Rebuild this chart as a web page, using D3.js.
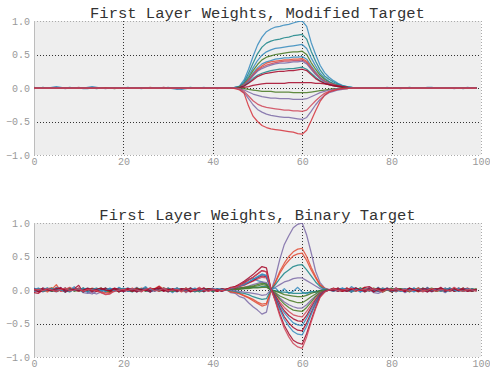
<!DOCTYPE html>
<html>
<head>
<meta charset="utf-8">
<script src="https://cdn.jsdelivr.net/npm/d3@7/dist/d3.min.js"></script>
<style>
  body { margin: 0; background: #fff; }
  svg { display: block; }
</style>
</head>
<body>
<div id="chart"></div>
<script>
// ---- data (all weights in hundredths) ----
const titles = ["First Layer Weights, Modified Target", "First Layer Weights, Binary Target"];
const xTicks = [0, 20, 40, 60, 80, 100];
const yTicks = [-1, -0.5, 0, 0.5, 1];

// each series is three pieces: x 0..43, x 44..72, x 73..99
const topStarts = [0, 44, 73];
const topColors = ["#348ABD", "#188487", "#348ABD", "#467821", "#348ABD", "#E24A33", "#CF4457", "#7A68A6",
                   "#188487", "#A60628", "#A60628", "#467821", "#7A68A6", "#CF4457", "#7A68A6", "#D6313B"];
const topSeries = [
  [[0,0,0,0,1,2,1,0,0,0, 0,-1,-1,0,0,0,0,0,0,0, 0,0,0,0,0,0,0,0,0,0, 0,-1,-2,-1,0,0,0,0,0,0, 0,0,0,0],
   [0,1,3,12,28,47,64,76,84,88,91,92,94,95,97,99,100,92,68,50,34,23,16,11,7,4,2,1,0],
   [0,0,0,0,0,0,1,0,0,0, 0,0,0,0,0,0,0,0,0,0, 0,0,0,0,0,0,0]],
  [[0,0,1,0,0,0,0,0,1,0, 0,0,0,0,-1,0,0,0,0,0, 0,1,0,0,0,0,0,0,0,0, 0,0,0,0,0,1,0,0,0,0, 0,0,0,0],
   [0,1,2,9,22,37,51,61,67,70,72,73,75,76,78,79,80,73,55,40,27,18,13,9,6,3,2,1,0],
   [0,0,0,0,0,0,0,0,0,0, 0,1,0,0,0,0,0,0,0,0, 0,0,0,-1,0,0,0]],
  [[0,0,0,0,0,0,0,0,0,0, 0,0,1,2,1,0,0,0,0,0, 0,0,0,0,-1,0,0,0,0,0, 0,0,0,0,0,0,0,0,1,0, 0,0,0,0],
   [0,1,2,8,18,30,41,49,54,57,59,60,61,62,63,64,65,59,45,33,22,15,10,7,5,3,1,1,0],
   [0,0,0,0,0,0,0,0,0,0, 0,0,0,0,0,1,1,0,0,0, 0,0,0,0,0,0,0]],
  [[0,0,0,0,0,0,0,0,0,0, 0,0,0,0,0,0,0,0,-1,0, 0,0,0,0,0,0,0,0,0,0, 0,0,0,0,0,0,0,0,0,0, 0,0,0,0],
   [0,0,2,6,15,26,35,42,46,48,50,51,52,53,54,54,55,50,38,28,19,13,9,6,4,2,1,0,0],
   [0,0,0,0,0,0,0,0,0,0, 0,0,0,0,0,0,0,0,0,0, 0,0,0,0,0,0,0]],
  [[1,0,0,0,0,0,0,0,0,0, 0,0,0,0,0,0,0,0,0,0, 0,0,0,0,0,0,0,0,0,0, 1,0,-1,-2,-1,0,0,0,0,0, 0,0,0,0],
   [0,0,1,5,13,22,30,36,39,41,43,44,45,45,46,46,47,43,33,24,16,11,8,5,3,2,1,0,0],
   [0,0,0,0,0,0,0,0,0,-1, 0,0,0,0,0,0,0,0,0,0, 0,0,0,0,1,0,0]],
  [[0,0,0,0,0,0,0,0,0,0, 0,0,0,0,0,0,0,0,0,0, 0,0,0,0,0,0,1,0,0,0, 0,0,0,0,0,0,0,0,0,0, 0,0,0,0],
   [0,0,1,5,12,20,28,33,37,39,40,41,42,42,43,43,44,40,31,22,15,10,7,5,3,2,1,0,0],
   [0,0,0,0,0,0,0,0,0,0, 0,0,0,0,0,0,0,0,0,0, 0,0,0,0,0,0,0]],
  [[0,0,0,0,0,0,0,0,0,0, 1,0,0,0,0,0,0,0,0,0, 0,0,0,0,0,0,0,0,0,0, 0,0,0,0,0,0,0,0,0,0, 0,0,0,0],
   [0,0,1,4,11,19,26,31,34,36,38,39,40,40,41,41,42,38,29,21,14,10,7,5,3,2,1,0,0],
   [0,0,0,0,0,0,0,0,0,0, 0,0,0,0,0,0,0,0,0,0, 0,0,0,0,0,0,0]],
  [[0,0,0,0,0,0,0,-1,0,0, 0,0,0,0,0,0,0,0,0,0, 0,0,0,0,0,0,0,0,0,0, 0,0,0,0,0,0,0,0,0,0, 0,-1,0,0],
   [0,0,1,4,10,18,25,29,32,34,36,37,37,38,39,39,40,36,28,20,14,9,6,4,3,2,1,0,0],
   [0,0,0,0,0,0,0,0,0,0, 0,0,0,0,0,0,0,0,0,0, 0,-1,0,0,0,0,0]],
  [[0,0,0,0,0,0,0,0,0,0, 0,0,0,0,0,0,0,0,0,0, 0,0,0,0,0,0,0,0,0,0, 0,0,0,0,0,0,0,0,0,0, 0,0,0,0],
   [0,0,1,3,8,14,19,22,24,26,27,28,28,29,29,30,31,28,22,16,11,7,5,3,2,1,1,0,0],
   [0,0,0,0,0,0,0,0,0,0, 0,0,0,0,0,0,0,0,0,0, 0,0,0,0,0,0,0]],
  [[0,0,0,0,0,0,0,0,0,0, 0,0,0,0,0,0,0,0,0,0, 0,0,0,0,0,0,0,0,0,1, 0,0,0,0,0,0,0,0,0,0, 0,0,0,0],
   [0,0,1,3,7,12,17,20,22,23,24,25,25,26,26,27,28,26,20,14,10,7,5,3,2,1,1,0,0],
   [0,0,0,0,0,0,0,0,0,0, 0,0,0,0,0,0,0,0,0,0, 0,0,0,0,0,0,0]],
  [[0,0,0,0,0,0,0,0,0,0, 0,0,0,0,0,0,0,0,0,0, 0,0,0,0,0,0,0,0,0,0, 0,0,0,0,0,0,0,0,0,0, 0,0,0,0],
   [0,0,0,1,2,4,5,6,7,7,7,7,7,8,8,8,8,8,8,7,7,6,5,4,3,2,1,0,0],
   [0,0,0,0,0,0,0,0,0,0, 0,0,0,0,0,0,0,0,0,0, 0,0,0,0,0,0,0]],
  [[0,0,0,0,0,0,0,0,0,0, 0,0,0,0,0,0,0,0,0,0, 0,0,0,0,0,0,0,0,0,0, 0,0,0,0,0,0,0,0,0,0, 0,0,0,0],
   [0,0,0,-1,-2,-3,-4,-5,-5,-5,-6,-6,-6,-6,-7,-7,-7,-7,-6,-5,-4,-3,-2,-1,-1,0,0,0,0],
   [0,0,0,0,0,0,0,0,0,0, 0,0,0,0,0,0,0,0,0,0, 0,0,0,0,0,0,0]],
  [[-1,0,0,0,0,0,0,0,0,0, 0,0,0,0,0,0,0,0,0,0, 0,0,0,0,0,0,0,0,0,0, 0,0,0,0,0,0,0,0,0,0, 0,0,0,0],
   [0,0,-1,-3,-6,-9,-11,-13,-14,-15,-15,-16,-16,-16,-17,-17,-17,-16,-13,-10,-7,-5,-3,-2,-1,-1,0,0,0],
   [0,0,0,0,0,0,0,0,0,0, 0,0,0,0,0,0,0,0,0,0, 0,0,0,0,0,0,0]],
  [[0,0,0,0,0,0,0,0,0,0, 0,0,0,0,0,0,0,0,0,0, 0,0,0,0,0,0,0,0,0,0, 0,0,0,0,0,0,0,0,0,0, 0,0,0,0],
   [0,0,-1,-5,-12,-19,-24,-27,-29,-30,-31,-32,-33,-33,-34,-34,-35,-33,-26,-19,-13,-8,-5,-3,-2,-1,-1,0,0],
   [0,0,0,0,0,0,0,0,0,0, 0,0,0,0,0,0,0,0,0,0, 0,0,0,0,0,0,0]],
  [[0,0,0,0,0,0,0,0,0,0, 0,0,0,0,0,0,-1,0,0,0, 0,0,0,0,0,0,0,0,0,0, 0,0,0,0,0,0,0,0,0,0, 0,0,0,0],
   [0,0,-2,-7,-16,-25,-32,-36,-39,-41,-42,-43,-44,-44,-45,-46,-47,-44,-35,-25,-17,-11,-7,-5,-3,-2,-1,0,0],
   [0,0,0,0,0,0,0,0,0,0, 0,0,0,0,0,0,0,0,0,0, 0,0,0,0,0,0,0]],
  [[0,0,0,0,0,0,0,0,0,0, 0,0,0,0,0,0,0,0,0,0, 0,0,0,0,0,0,0,0,0,0, 0,0,0,0,0,0,0,0,0,0, 0,0,0,0],
   [0,-1,-3,-8,-27,-42,-50,-56,-59,-61,-62,-63,-64,-65,-66,-68,-69,-63,-49,-34,-20,-11,-6,-4,-2,-1,-1,0,0],
   [0,0,0,0,0,0,0,0,0,0, 0,0,0,0,0,0,0,0,0,0, 0,0,0,0,0,0,0]]
];

// each series: x 0..42, x 43..53, x 54..66, x 67..99
const bottomStarts = [0, 43, 54, 67];
const bottomColors = ["#7A68A6", "#E24A33", "#E24A33", "#188487", "#7A68A6", "#348ABD", "#188487", "#467821", "#467821",
                      "#7A68A6", "#467821", "#CF4457", "#A60628", "#348ABD", "#A60628", "#348ABD", "#A60628", "#CF4457"];
const bottomSeries = [
  [[2,-1,3,0,-2,1,4,-3,0,2, -1,3,-4,-6,-2,1,0,2,-1,3, 1,-2,0,4,-1,2,-3,0,1,-2, 3,0,-1,2,-4,1,0,3,-2,1, 0,2,-1],
   [1,-4,-5,-10,-12,-19,-25,-30,-36,-33,-2],
   [19,46,68,81,93,98,100,82,56,28,11,3,1],
   [1,-2,3,0,-3,2,1,-1,4,0, -2,1,3,-1,0,2,-3,1,0,-2, 3,1,-1,2,0,-4,1,3,-1,0, 2,-1,1]],
  [[-1,2,0,-3,1,8,-2,0,1,-1, 2,0,-2,3,1,-1,0,-4,2,1, -2,0,3,-1,1,0,-2,2,6,1, -1,0,2,-3,1,0,-2,1,3,-1, 0,-2,1],
   [1,-2,-4,-6,-9,-12,-16,-20,-24,-22,-1],
   [12,28,40,50,57,61,62,50,34,20,8,3,0],
   [0,3,-1,2,-2,0,1,4,-1,0, 2,-3,1,0,-1,2,1,-2,0,3, -1,1,-2,0,2,1,-1,0,3,-2, 1,0,-1]],
  [[1,0,-2,2,3,-1,0,-3,1,2, 0,-1,3,1,-2,-3,-4,-3,0,1, 2,-1,0,-2,3,1,0,-1,2,0, -3,1,2,0,-1,3,-2,0,1,-1, 2,0,-1],
   [0,-3,-3,-5,-8,-11,-14,-18,-21,-20,-1],
   [11,25,36,44,51,54,55,44,30,18,7,2,0],
   [-2,1,0,3,-1,0,2,-2,1,-1, 0,3,1,-2,0,1,-1,2,0,-3, 1,2,-1,0,1,-2,3,0,-1,1, 0,2,-1]],
  [[0,-2,1,3,-1,0,2,-1,-3,1, 0,2,-2,1,3,0,-1,2,0,-2, 1,3,-1,0,-2,2,1,-1,0,3, 1,-2,0,2,-1,1,-3,0,2,1, -1,0,2],
   [0,-1,-2,-4,-5,-7,-10,-12,-14,-13,0],
   [8,17,25,30,35,37,38,30,21,12,5,1,0],
   [1,-1,2,0,-2,3,1,-3,0,2, -1,0,1,3,-2,0,1,-1,2,0, -2,1,0,-1,3,0,-2,1,2,-1, 0,1,-1]],
  [[-2,1,0,2,-1,-3,0,1,3,-1, 2,-4,-5,-2,0,1,-1,2,0,1, -3,0,2,1,-1,3,0,-2,1,0, 2,-1,-3,1,0,2,-1,0,3,-2, 1,0,-1],
   [1,0,-1,-2,-3,-4,-5,-6,-8,-7,0],
   [4,8,12,14,17,18,18,14,10,6,2,1,0],
   [2,0,-1,1,-3,0,2,1,-2,0, 3,-1,0,2,-2,1,-4,0,1,2, -1,0,-3,1,2,0,-1,3,-2,0, 1,-1,0]],
  [[3,-1,2,0,-2,4,1,-3,0,5, -2,1,3,-1,0,-3,2,1,-2,4, 0,-1,2,-3,1,5,-2,0,3,-1, 1,-4,2,0,-1,3,1,-2,0,2, -3,1,0],
   [1,2,3,5,10,16,18,14,12,8,1],
   [3,-4,2,-5,-2,4,-3,-6,-2,-4,-1,2,0],
   [-1,3,0,-2,5,1,-3,2,0,-1, 4,-2,1,0,-3,2,1,-1,3,0, -2,4,-1,0,2,-3,1,0,3,-1, 2,-2,1]],
  [[0,2,-2,1,-1,3,0,-2,2,0, 1,-3,2,0,1,-1,3,-2,0,1, 2,-1,-3,1,0,2,-2,1,0,-1, 3,0,-2,1,2,-1,0,1,-3,2, 0,1,-1],
   [0,1,1,2,2,3,4,4,5,5,0],
   [-1,-3,-3,-4,-5,-5,-5,-4,-3,-2,-1,0,0],
   [2,-1,0,1,-2,3,0,-1,2,-3, 1,0,2,-1,1,-2,0,3,-1,0, 1,-2,2,0,-1,1,3,-2,0,1, -1,2,0]],
  [[1,-1,0,2,-2,1,0,-1,3,-2, 0,1,-1,2,0,-3,1,0,2,-1, 1,0,-2,3,0,-1,1,2,-2,0, 1,-1,3,0,-2,1,0,2,-1,1, -2,0,1],
   [0,1,1,1,2,2,3,3,4,4,0],
   [-2,-4,-7,-8,-9,-10,-10,-8,-5,-3,-1,0,0],
   [0,2,-1,1,0,-2,3,1,-1,0, 2,-3,0,1,2,-1,0,-2,1,3, 0,-1,1,-2,0,2,1,-1,0,3, -2,0,1]],
  [[-1,0,2,-1,1,-2,0,3,-1,1, -2,2,0,-1,1,3,-2,0,1,-3, 2,0,-1,1,2,-2,0,1,-1,3, 0,-2,1,0,2,-1,1,-3,0,2, 1,-1,0],
   [1,1,2,2,3,4,5,6,8,7,0],
   [-4,-9,-12,-15,-17,-19,-19,-15,-10,-6,-2,-1,0],
   [1,0,-2,2,-1,0,3,-2,1,0, -1,2,0,-3,1,2,-1,0,1,-2, 3,0,-1,2,-2,1,0,-1,2,0, 1,-2,1]],
  [[2,0,-3,1,2,-1,0,3,-2,1, 0,-1,2,-4,-6,-3,1,0,2,-1, -2,3,1,0,-1,2,-3,1,0,2, -1,0,3,-2,1,0,-1,2,-2,0, 3,-1,1],
   [0,1,2,3,4,6,8,10,12,11,0],
   [-5,-12,-18,-22,-25,-27,-27,-22,-15,-9,-3,-1,0],
   [-1,2,0,-2,1,3,-1,0,2,-4, -5,-2,1,0,3,-1,0,2,-2,1, 0,-3,2,1,-1,0,2,-1,3,0, -2,1,0]],
  [[0,1,-2,0,3,-1,1,-2,2,0, -1,3,-2,1,0,2,-1,-3,1,0, 2,-1,0,1,-2,3,0,-1,2,1, -2,0,1,-1,3,0,-2,1,0,2, -1,1,0],
   [0,1,2,3,4,5,6,8,10,9,0],
   [-6,-14,-21,-26,-30,-31,-32,-26,-18,-10,-4,-1,0],
   [2,-1,1,0,-3,2,0,1,-1,3, 0,-2,1,2,-1,0,1,-3,2,0, -1,1,3,-2,0,1,-1,2,0,-2, 1,0,2]],
  [[-3,1,2,-1,0,3,-2,1,4,0, -2,1,0,-3,2,-4,-7,-6,0,-2, 1,2,-1,0,-3,2,1,0,-2,3, 1,-1,0,2,-3,1,0,4,-1,0, 2,-2,1],
   [0,2,3,5,7,10,13,16,19,18,1],
   [-8,-18,-26,-32,-37,-39,-40,-32,-22,-13,-5,-2,0],
   [0,3,-2,1,-1,2,0,-3,1,2, 0,-1,3,1,-2,0,2,-1,1,0, -3,2,0,1,-1,3,-2,0,1,2, -1,0,-2]],
  [[-4,-5,0,2,1,-2,3,0,-1,2, 7,-3,0,2,-1,1,3,-2,0,1, -1,2,0,-3,1,2,-1,0,3,-2, 1,0,-1,2,1,-3,0,2,-1,1, 0,-2,2],
   [1,2,3,6,8,11,14,18,21,20,1],
   [-9,-21,-31,-38,-43,-46,-47,-38,-26,-15,-6,-2,0],
   [1,-2,0,3,-1,2,0,-2,1,-1, 3,0,2,-3,1,0,-1,2,1,-2, 0,3,-1,0,2,-2,1,0,-1,3, 0,-2,1]],
  [[1,3,-2,0,2,-1,1,-3,0,2, -1,3,1,-2,0,1,-3,2,0,-1, 3,-2,1,0,2,-1,-3,1,0,2, -2,1,3,0,-1,2,-2,1,0,-1, 2,0,-2],
   [0,3,4,6,9,12,16,20,24,22,1],
   [-11,-24,-34,-42,-49,-52,-53,-42,-29,-17,-7,-2,0],
   [-2,1,3,0,-1,2,-3,0,1,2, -1,0,3,-2,1,-1,2,0,-3,1, 2,0,-1,1,-2,3,0,-1,2,-2, 0,1,-1]],
  [[0,-2,3,1,-1,0,2,-3,1,0, 3,-1,2,0,-2,1,0,-1,3,1, -2,0,2,-1,1,0,-3,2,1,-1, 0,2,-2,1,0,3,-1,0,-2,2, 1,-1,0],
   [1,3,5,7,11,15,19,24,29,27,2],
   [-12,-27,-40,-49,-56,-60,-61,-49,-34,-20,-8,-2,0],
   [3,0,-2,1,2,-1,0,4,5,1, -2,0,1,-1,3,0,-2,2,1,-1, 0,-3,1,2,0,-1,2,-2,0,1, 3,-1,0]],
  [[-2,0,1,3,-1,2,0,-2,1,-1, 2,0,-3,1,2,-1,0,3,-2,0, 1,-1,2,0,-2,3,1,-1,0,2, -3,0,1,-1,2,0,3,-2,1,0, -1,2,1],
   [0,2,4,6,8,12,16,19,23,21,1],
   [-13,-30,-44,-54,-62,-66,-67,-54,-37,-21,-9,-3,0],
   [0,-1,2,1,-3,0,2,-1,1,0, -2,3,0,-1,2,-2,1,0,3,-1, 0,2,-2,1,0,-1,3,0,-2,1, 2,-1,0]],
  [[2,-3,1,0,-1,2,3,-2,0,1, -1,0,2,-2,1,3,0,-1,2,-3, 0,1,-2,2,0,-1,3,1,5,0, -2,1,0,-1,2,-2,1,0,3,-1, 0,1,-2],
   [1,4,5,9,13,18,23,29,35,33,2],
   [-16,-36,-53,-65,-75,-79,-81,-65,-45,-26,-10,-3,0],
   [-1,2,0,-2,1,3,0,-1,2,-3, 1,0,2,-1,0,1,-2,3,0,-1, 2,1,-2,0,4,-1,0,2,-1,1, -2,0,1]],
  [[0,1,-1,2,0,-2,1,3,-1,0, 2,-2,1,0,-1,-4,-6,-5,-2,0, 1,-1,2,0,-2,1,3,-1,0,2, -1,0,1,-2,3,0,-1,2,0,-2, 1,0,-1],
   [0,3,4,7,10,15,19,24,29,27,2],
   [-17,-39,-57,-70,-80,-85,-87,-70,-48,-28,-11,-3,0],
   [2,-1,0,1,3,-2,0,1,-1,2, 0,-3,1,0,2,-1,1,-2,0,3, -1,0,2,-2,1,0,-1,4,0,-2, 1,0,-1]]
];

// ---- layout ----
const width = 490, height = 371;
const plotLeft = 34, plotRight = 481;
const panels = [
  { title: titles[0], top: 21, bottom: 155, titleY: 18, starts: topStarts, series: topSeries, colors: topColors },
  { title: titles[1], top: 223, bottom: 357, titleY: 220, starts: bottomStarts, series: bottomSeries, colors: bottomColors }
];

const svg = d3.select("#chart").append("svg")
  .attr("width", width)
  .attr("height", height);

const fmt = d3.format(".1f");

panels.forEach((p, k) => {
  let x = d3.scaleLinear().domain([0, 100]).range([plotLeft, plotRight]);
  let y = d3.scaleLinear().domain([-1, 1]).range([p.bottom, p.top]);
  let g = svg.append("g");

  g.append("rect")
    .attr("x", plotLeft).attr("y", p.top)
    .attr("width", plotRight - plotLeft).attr("height", p.bottom - p.top)
    .attr("fill", "#eeeeee");

  // dotted grid
  g.selectAll(".vgrid").data(xTicks).join("line")
    .attr("x1", d => Math.round(x(d)) + 0.5).attr("x2", d => Math.round(x(d)) + 0.5)
    .attr("y1", p.top).attr("y2", p.bottom)
    .attr("stroke", d => (d == 0 || d == 100) ? "#aaa" : "#333")
    .attr("stroke-width", 1)
    .attr("stroke-dasharray", "1,2");
  g.selectAll(".hgrid").data(yTicks).join("line")
    .attr("y1", d => Math.round(y(d)) + 0.5).attr("y2", d => Math.round(y(d)) + 0.5)
    .attr("x1", plotLeft).attr("x2", plotRight)
    .attr("stroke", d => Math.abs(d) == 1 ? "#aaa" : "#333")
    .attr("stroke-width", 1)
    .attr("stroke-dasharray", "1,2");
  // solid left spine
  g.append("line")
    .attr("x1", plotLeft + 0.5).attr("x2", plotLeft + 0.5)
    .attr("y1", p.top).attr("y2", p.bottom + 0.5)
    .attr("stroke", "#bcbcbc");

  // clip
  svg.append("clipPath").attr("id", "clip" + k)
    .append("rect")
    .attr("x", plotLeft).attr("y", p.top)
    .attr("width", plotRight - plotLeft).attr("height", p.bottom - p.top + 1);

  let line = d3.line()
    .x(d => x(d[0]))
    .y(d => y(d[1]));

  let rows = p.series.map(pieces => {
    let pts = [];
    pieces.forEach((seg, s) => {
      seg.forEach((v, i) => pts.push([p.starts[s] + i, v / 100]));
    });
    return pts;
  });

  g.append("g").attr("clip-path", "url(#clip" + k + ")")
    .selectAll("path").data(rows).join("path")
    .attr("fill", "none")
    .attr("stroke", (d, i) => p.colors[i])
    .attr("stroke-width", 1.25)
    .attr("stroke-opacity", 0.85)
    .attr("stroke-linejoin", "round")
    .attr("d", line);

  // axes
  let xa = g.append("g")
    .attr("transform", "translate(0," + p.bottom + ")")
    .call(d3.axisBottom(x).tickValues(xTicks).tickSize(0).tickPadding(3));
  let ya = g.append("g")
    .attr("transform", "translate(" + plotLeft + ",0)")
    .call(d3.axisLeft(y).tickValues(yTicks).tickSize(0).tickPadding(4).tickFormat(fmt));
  [xa, ya].forEach(a => {
    a.select(".domain").remove();
    a.selectAll("text")
      .attr("fill", "#999")
      .style("font-family", "'Liberation Mono', 'DejaVu Sans Mono', monospace")
      .style("font-size", "10px");
  });

  g.append("text")
    .attr("x", (plotLeft + plotRight) / 2)
    .attr("y", p.titleY)
    .attr("text-anchor", "middle")
    .attr("fill", "#333")
    .style("font-family", "'Liberation Mono', 'DejaVu Sans Mono', monospace")
    .style("font-size", "15.5px")
    .text(p.title);
});
</script>
</body>
</html>
